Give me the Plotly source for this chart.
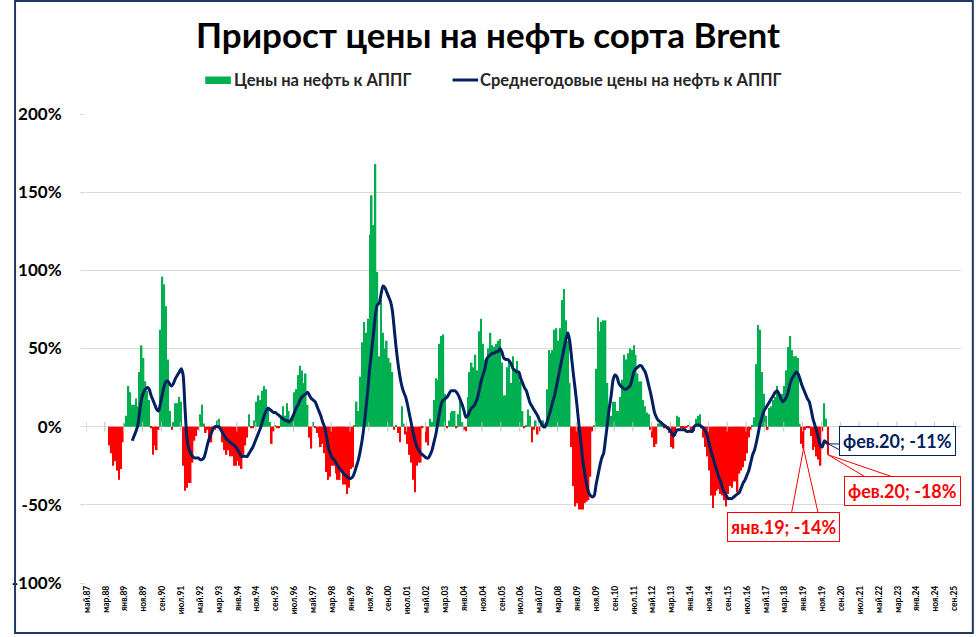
import plotly.graph_objects as go

TITLE = "Прирост цены на нефть сорта Brent"
BAR_NAME = "Цены на нефть к АППГ"
LINE_NAME = "Среднегодовые цены на нефть к АППГ"

N_MONTHS = 464          # май.87 ... дек.25
TICK_STEP = 10
TICK_LABELS = ["май.87", "мар.88", "янв.89", "ноя.89", "сен.90", "июл.91", "май.92", "мар.93",
               "янв.94", "ноя.94", "сен.95", "июл.96", "май.97", "мар.98", "янв.99", "ноя.99",
               "сен.00", "июл.01", "май.02", "мар.03", "янв.04", "ноя.04", "сен.05", "июл.06",
               "май.07", "мар.08", "янв.09", "ноя.09", "сен.10", "июл.11", "май.12", "мар.13",
               "янв.14", "ноя.14", "сен.15", "июл.16", "май.17", "мар.18", "янв.19", "ноя.19",
               "сен.20", "июл.21", "май.22", "мар.23", "янв.24", "ноя.24", "сен.25"]
Y_TICKS = [-100, -50, 0, 50, 100, 150, 200]
Y_TICK_LABELS = ["-100%", "-50%", "0%", "50%", "100%", "150%", "200%"]

# monthly y/y change of Brent price, % (first value = май.88)
BAR_START = 12
BAR_VALUES = [
    -12, -17, -25, -22, -28, -34, -27, -10,
    2, 7, 26, 22, 14, 14, 18, 13, 35, 52, 44, 29, 23, 17,
    -1, -18, -12, -15, -2,
    62, 96, 91, 77, 43, 10, -2,
    3, 15, 15, 19, 16,
    -25, -41, -39, -36, -36, -23, -9, -6,
    -2, 8, 14, 2,
    -4, -2, -10, -10, -3, -2, 4, 5, -3,
    -10, -15, -18, -15, -19, -19, -25, -25, -22, -25, -27, -18, -12, -7,
    8, -1, -1, 4, 16, 20, 17, 23, 26, 24, 12,
    3, -11, -3, 1, -1, -1,
    7, 13, 7, 15, 10, 4, 7, 22, 24, 33, 39, 36, 28, 34, 14,
    -7, -14, 3,
    -1, -4, -7, -13, -11, -17, -29, -34, -32, -25, -25, -30, -34, -34, -29, -37, -37, -43, -39, -27, -26,
    1, 16, 10, 32, 54, 67, 60, 69, 123, 148, 129, 168, 99,
    45, 81, 60, 50, 55, 44, 41, 35,
    -2, 1, -4, -10, 13, 2, -5, -11, -18, -23,
    -34, -42, -25, -23, -23, -1, 0, -10, -12, 5,
    3, 17, 31, 30, 53, 58, 59, 21, -1, 4,
    9, 10, 10, -1, 8, 17, 3, -2, -3,
    19, 35, 41, 38, 46, 36, 61, 69, 53, 43,
    44, 50, 60, 52, 51, 53, 55, 56, 41, 20,
    20, 38, 43, 28, 45, 36, 42, 33, 29, 10, -1,
    1, 11, 7, -10, -2, 4, -5, -3, 4, 4, 2,
    24, 49, 47, 49, 62, 63, 55, 63, 81, 88, 68, 55, 28,
    -13, -38, -51, -49, -53, -53, -53, -49, -48, -47, -32, -3,
    1, 37, 70, 61, 67, 68, 68, 28, 7, 7, 16, 16, 10, 10, 19,
    30, 46, 43, 47, 50, 49, 52, 46, 34, 29, 29, 17, 13, 9, 8,
    -2, -7, -13, -11, 2, 2, 1, -1, 1, -0.5, -4, -13, -14, -6,
    7, 6, -1, -1, -2, -1, 1, -2, -4, -3, 5, 7, 8,
    -1, -7, -13, -19, -28, -44, -52, -44, -41, -40,
    -43, -44, -47, -51, -43, -38, -39, -35, -35, -42,
    -30, -28, -26, -22, -17, -7, -2, 1,
    6, 40, 65, 62, 35, 21, 7, -2, 12, 13, 17, 19, 26, 22, 18, 21, 26, 36, 51, 58, 49, 45, 45, 44, 2,
    -11, -14, -2, -0.5, -1, -6, -15, -13, -19, -21, -25, -3, 15, 5, -18,
]

# y/y change of average annual price, % (first value = май.89)
LINE_START = 24
LINE_VALUES = [
    -9, -6, -3, 1, 10, 18, 22, 24, 25, 24,
    20, 17, 14, 11, 10, 15, 21, 26, 29, 29,
    27, 26, 28, 31, 33, 35, 37, 33, 12, -7,
    -14, -17, -19, -20, -20, -20, -21, -21, -20, -16,
    -11, -7, -4, -1, 0, 0, 0, -2, -4, -6,
    -8, -9, -10, -11, -12, -13, -15, -17, -19, -19,
    -19, -19, -17, -15, -13, -10, -7, -4, -1, 3,
    7, 10, 12, 11, 10, 9, 9, 8, 7, 6,
    5, 4, 4, 3, 4, 6, 9, 12, 14, 17,
    19, 20, 21, 22, 20, 18, 17, 16, 13, 10,
    7, 3, 0, -6, -13, -17, -20, -21, -23, -25,
    -27, -28, -30, -31, -32, -33, -33, -32, -29, -25,
    -21, -15, -8, 1, 12, 24, 38, 49, 60, 72,
    78, 79, 85, 90, 89, 86, 83, 80, 74, 62,
    50, 40, 32, 26, 22, 19, 14, 8, 2, -4,
    -9, -13, -15, -17, -18, -19, -20, -20, -18, -15,
    -10, -5, 2, 9, 15, 17, 18, 19, 21, 23,
    23, 23, 22, 20, 17, 14, 10, 6, 7, 10,
    12, 13, 15, 18, 23, 29, 33, 37, 43, 45,
    46, 47, 47, 48, 48, 50, 48, 44, 43, 43,
    42, 40, 37, 36, 35, 35, 31, 28, 25, 23,
    19, 15, 13, 11, 9, 7, 4, 2, 0, 0,
    3, 7, 11, 16, 20, 26, 32, 38, 44, 50,
    56, 60, 55, 44, 33, 23, 12, 0, -11, -22,
    -30, -37, -42, -44, -45, -44, -37, -31, -25, -20,
    -17, -8, 2, 12, 20, 30, 33, 32, 28, 26,
    25, 24, 24, 25, 26, 30, 35, 37, 38, 39,
    39, 37, 35, 31, 26, 21, 15, 9, 6, 4,
    3, 2, 1, 0, -1, -2, -4, -6, -4, -2,
    -2, -2, -2, -2, -3, -3, -3, -3, 0, 1,
    1, 1, 0, -1, -3, -6, -11, -16, -20, -24,
    -28, -32, -35, -39, -42, -44, -46, -46, -46, -45,
    -44, -43, -42, -39, -36, -34, -31, -28, -23, -18,
    -15, -10, -4, 2, 6, 10, 12, 14, 16, 18,
    20, 22, 23, 21, 18, 16, 17, 19, 23, 28,
    31, 33, 35, 34, 31, 27, 24, 21, 18, 16,
    11, 5, 1, -3, -8, -12, -13, -9, -10, -11,
]

# callouts: (category index, text)
CALLOUT_BAR_1 = (380, "янв.19; -14%")
CALLOUT_BAR_2 = (393, "фев.20; -18%")
CALLOUT_LINE = (393, "фев.20; -11%")

GREEN = "#00B050"
RED = "#FF0000"
NAVY = "#002060"
GRID = "#D9D9D9"
FONT = "Lato, 'Open Sans', sans-serif"

# figure geometry (pixels)
FIG_W, FIG_H = 976, 637
L, T, W, H = 73, 114, 888, 469
Y_MIN, Y_MAX = -100, 200


def px_x(px):
    return (px - L) / W


def px_y(py):
    return (T + H - py) / H


def data_x(i):
    return (i + 0.5) / N_MONTHS


def data_y(v):
    return (v - Y_MIN) / (Y_MAX - Y_MIN)


bar_x = list(range(BAR_START, BAR_START + len(BAR_VALUES)))
line_x = list(range(LINE_START, LINE_START + len(LINE_VALUES)))
pos = [v if v > 0 else None for v in BAR_VALUES]
neg = [v if v <= 0 else None for v in BAR_VALUES]

fig = go.Figure()
fig.add_trace(go.Bar(x=bar_x, y=pos, name=BAR_NAME, showlegend=False,
                     marker=dict(color=GREEN, line=dict(width=0)), hoverinfo="skip"))
fig.add_trace(go.Bar(x=bar_x, y=neg, name=BAR_NAME, showlegend=False,
                     marker=dict(color=RED, line=dict(width=0)), hoverinfo="skip"))
# small tick marks on the zero axis
tick_pos = [k * TICK_STEP - 0.5 for k in range(len(TICK_LABELS) + 1)]
fig.add_trace(go.Scatter(x=tick_pos, y=[0] * len(tick_pos), mode="markers", showlegend=False,
                         marker=dict(symbol="line-ns", size=7, line=dict(color="#BFBFBF", width=1)),
                         hoverinfo="skip"))
fig.add_trace(go.Scatter(x=line_x, y=LINE_VALUES, name=LINE_NAME, mode="lines", showlegend=False,
                         line=dict(color=NAVY, width=3, shape="spline", smoothing=0.6),
                         hoverinfo="skip"))

shapes = []
annotations = []


def callout(idx, value, text, color, box_center, base1, base2):
    tx, ty = data_x(idx), data_y(value)
    shapes.append(dict(type="path", xref="paper", yref="paper",
                       path=f"M {px_x(base1[0])},{px_y(base1[1])} L {tx},{ty} L {px_x(base2[0])},{px_y(base2[1])}",
                       line=dict(color=color, width=1)))
    annotations.append(dict(xref="paper", yref="paper", x=px_x(box_center[0]), y=px_y(box_center[1]),
                            xanchor="center", yanchor="middle", showarrow=False, text=text,
                            font=dict(family=FONT, size=18, color=color, weight="bold"),
                            bgcolor="white", bordercolor=color, borderwidth=1, borderpad=3))


i1, t1 = CALLOUT_BAR_1
callout(i1, BAR_VALUES[i1 - BAR_START], t1, RED, (781, 526.5), (789, 513), (816, 513))
i2, t2 = CALLOUT_BAR_2
callout(i2, BAR_VALUES[i2 - BAR_START], t2, RED, (901.5, 490.5), (864, 477), (892, 477))
i3, t3 = CALLOUT_LINE
callout(i3, LINE_VALUES[i3 - LINE_START], t3, NAVY, (897, 441), (842, 444), (842, 452))

# legend (drawn manually to match the original swatch sizes)
LEG_Y = 80
LEG_FONT = dict(family=FONT, size=16.5, color="#262626", weight="bold")
shapes.append(dict(type="rect", xref="paper", yref="paper", x0=px_x(194), x1=px_x(220),
                   y0=px_y(84), y1=px_y(76.5), fillcolor=GREEN, line=dict(width=0)))
annotations.append(dict(xref="paper", yref="paper", x=px_x(221), y=px_y(LEG_Y), xanchor="left",
                        yanchor="middle", showarrow=False, text=BAR_NAME, font=LEG_FONT))
shapes.append(dict(type="line", xref="paper", yref="paper", x0=px_x(445), x1=px_x(471),
                   y0=px_y(LEG_Y), y1=px_y(LEG_Y), line=dict(color=NAVY, width=3)))
annotations.append(dict(xref="paper", yref="paper", x=px_x(471), y=px_y(LEG_Y), xanchor="left",
                        yanchor="middle", showarrow=False, text=LINE_NAME, font=LEG_FONT))

# outer border of the chart
shapes.append(dict(type="rect", xref="paper", yref="paper", layer="above",
                   x0=px_x(1), x1=px_x(973), y0=px_y(633), y1=px_y(1),
                   line=dict(color="#1F3864", width=2)))

fig.update_layout(
    width=FIG_W, height=FIG_H,
    margin=dict(l=L, r=FIG_W - L - W, t=T, b=FIG_H - T - H),
    paper_bgcolor="white", plot_bgcolor="white",
    barmode="overlay", bargap=0.15, showlegend=False,
    title=dict(text=TITLE, x=0.5, xanchor="center", y=1 - 36 / FIG_H, yanchor="middle",
               font=dict(family=FONT, size=35, color="black", weight="bold")),
    xaxis=dict(range=[-0.5, N_MONTHS - 0.5], tickmode="array",
               tickvals=[k * TICK_STEP for k in range(len(TICK_LABELS))], ticktext=TICK_LABELS,
               tickangle=-90, showgrid=False, zeroline=False, showline=False, ticks="",
               tickfont=dict(family=FONT, size=8.5, color="black", weight="bold")),
    yaxis=dict(range=[Y_MIN, Y_MAX], tickmode="array", tickvals=Y_TICKS, ticktext=Y_TICK_LABELS,
               showgrid=True, gridcolor=GRID, gridwidth=1, zeroline=True, zerolinecolor=GRID,
               zerolinewidth=1, showline=False, ticks="outside", ticklen=5, tickcolor=GRID,
               ticklabelstandoff=15,
               tickfont=dict(family=FONT, size=17, color="black", weight="bold")),
    shapes=shapes, annotations=annotations,
)

fig.write_html("out.html")
